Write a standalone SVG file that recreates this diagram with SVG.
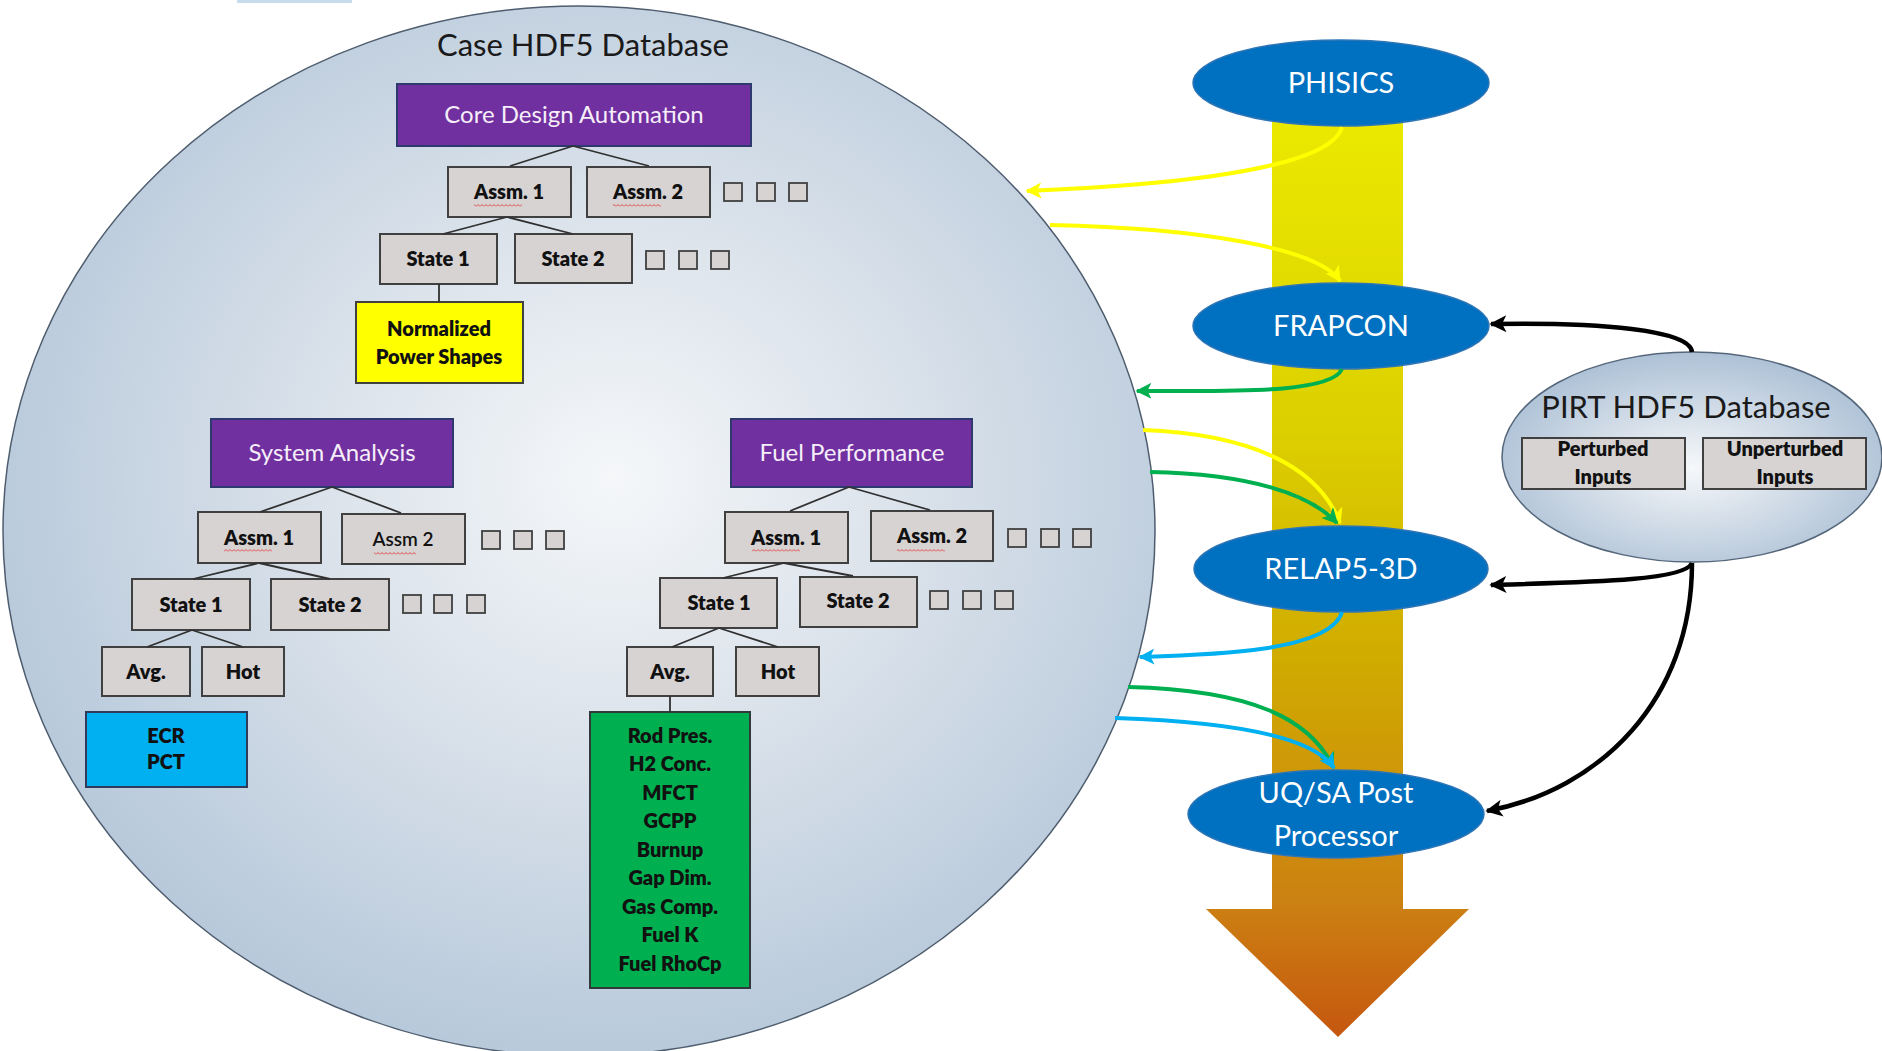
<svg xmlns="http://www.w3.org/2000/svg" width="1882" height="1051" viewBox="0 0 1882 1051">
<defs>
  <radialGradient id="caseFill" cx="0.53" cy="0.45" r="0.6">
    <stop offset="0" stop-color="#F5F7F9"/>
    <stop offset="0.45" stop-color="#D9E1EA"/>
    <stop offset="1" stop-color="#B2C5D8"/>
  </radialGradient>
  <radialGradient id="pirtFill" cx="0.5" cy="0.55" r="0.6">
    <stop offset="0" stop-color="#F6F8FA"/>
    <stop offset="0.5" stop-color="#CFDAE6"/>
    <stop offset="1" stop-color="#A6BCD3"/>
  </radialGradient>
  <linearGradient id="barFill" gradientUnits="userSpaceOnUse" x1="0" y1="100" x2="0" y2="1040">
    <stop offset="0" stop-color="#ECEA00"/>
    <stop offset="0.35" stop-color="#DCD000"/>
    <stop offset="0.6" stop-color="#D0AA00"/>
    <stop offset="0.85" stop-color="#CC8212"/>
    <stop offset="1" stop-color="#C5560F"/>
  </linearGradient>
  <pattern id="squig" width="4" height="3" patternUnits="userSpaceOnUse">
    <path d="M0,2.5 L2,0.5 L4,2.5" stroke="#E23A3A" stroke-width="0.9" fill="none"/>
  </pattern>
  <marker id="ahY" viewBox="0 0 10 10" refX="9" refY="5" markerWidth="4" markerHeight="4" orient="auto"><path d="M0,0 L10,5 L0,10 L2.5,5 Z" fill="#FFFF00"/></marker>
  <marker id="ahG" viewBox="0 0 10 10" refX="9" refY="5" markerWidth="4" markerHeight="4" orient="auto"><path d="M0,0 L10,5 L0,10 L2.5,5 Z" fill="#00B050"/></marker>
  <marker id="ahB" viewBox="0 0 10 10" refX="9" refY="5" markerWidth="4" markerHeight="4" orient="auto"><path d="M0,0 L10,5 L0,10 L2.5,5 Z" fill="#00B0F0"/></marker>
  <marker id="ahK" viewBox="0 0 10 10" refX="9" refY="5" markerWidth="3.8" markerHeight="3.8" orient="auto"><path d="M0,0 L10,5 L0,10 L2.5,5 Z" fill="#000000"/></marker>
</defs>
<style>
  text { font-family: Lato, "Liberation Sans", sans-serif; }
  .title { font-size: 31px; fill: #1A1A1A; }
  .purple { fill: #7030A0; stroke: #2E3A6E; stroke-width: 2; }
  .ptext { font-size: 24px; fill: #F6EEF9; text-anchor: middle; }
  .gbox { fill: #D7D3D3; stroke: #404040; stroke-width: 2; }
  .sq { fill: #D7D3D3; stroke: #404040; stroke-width: 1.8; }
  .btext { font-size: 20px; font-weight: 800; fill: #111; text-anchor: middle; }
  .rtext { font-size: 19px; font-weight: 600; fill: #111; text-anchor: middle; }
  .blue { fill: #0070C0; stroke: #2E75B6; stroke-width: 1.5; }
  .wtext { font-size: 29px; fill: #FFFFFF; text-anchor: middle; }
  .tree { stroke: #303030; stroke-width: 1.8; fill: none; }
  .arr { fill: none; stroke-width: 4; }
  .blk { fill: none; stroke: #000; stroke-width: 4.5; }
</style>

<rect x="0" y="0" width="1882" height="1051" fill="#FFFFFF"/>
<rect x="237" y="0" width="115" height="3" fill="#C9DCEC"/>

<g id="case-db">
  <ellipse cx="579" cy="531" rx="576" ry="525" fill="url(#caseFill)" stroke="#4E5D6E" stroke-width="1.5"/>
  <text class="title" x="583" y="56" text-anchor="middle">Case HDF5 Database</text>
</g>

<!-- Core Design Automation tree -->
<g id="core-design">
  <rect class="purple" x="397" y="84" width="354" height="62"/>
  <text class="ptext" x="574" y="123">Core Design Automation</text>
</g>
<g id="cda-assm1"><rect class="gbox" x="448" y="167" width="123" height="50"/><text class="btext" x="509" y="199">Assm. 1</text><rect x="474" y="204" width="48" height="3" fill="url(#squig)"/></g>
<g id="cda-assm2"><rect class="gbox" x="587" y="167" width="123" height="50"/><text class="btext" x="648" y="199">Assm. 2</text><rect x="613" y="204" width="48" height="3" fill="url(#squig)"/></g>
<g id="cda-assm-more"><rect class="sq" x="724" y="183" width="18" height="18"/><rect class="sq" x="757" y="183" width="18" height="18"/><rect class="sq" x="789" y="183" width="18" height="18"/></g>
<g id="cda-state1"><rect class="gbox" x="380" y="234" width="117" height="50"/><text class="btext" x="438" y="266">State 1</text></g>
<g id="cda-state2"><rect class="gbox" x="515" y="234" width="117" height="49"/><text class="btext" x="573" y="266">State 2</text></g>
<g id="cda-state-more"><rect class="sq" x="646" y="251" width="18" height="18"/><rect class="sq" x="679" y="251" width="18" height="18"/><rect class="sq" x="711" y="251" width="18" height="18"/></g>
<g id="power-shapes"><rect x="356" y="302" width="167" height="81" fill="#FFFF00" stroke="#404040" stroke-width="2"/><text class="btext" x="439" y="336" font-size="21">Normalized</text><text class="btext" x="439" y="364" font-size="21">Power Shapes</text></g>

<!-- System Analysis tree -->
<g id="system-analysis">
  <rect class="purple" x="211" y="419" width="242" height="68"/>
  <text class="ptext" x="332" y="461">System Analysis</text>
</g>
<g id="sa-assm1"><rect class="gbox" x="198" y="512" width="123" height="51"/><text class="btext" x="259" y="545">Assm. 1</text><rect x="224" y="549" width="48" height="3" fill="url(#squig)"/></g>
<g id="sa-assm2"><rect class="gbox" x="342" y="514" width="123" height="50"/><text class="rtext" x="403" y="546">Assm 2</text><rect x="374" y="552" width="42" height="3" fill="url(#squig)"/></g>
<g id="sa-assm-more"><rect class="sq" x="482" y="531" width="18" height="18"/><rect class="sq" x="514" y="531" width="18" height="18"/><rect class="sq" x="546" y="531" width="18" height="18"/></g>
<g id="sa-state1"><rect class="gbox" x="132" y="579" width="118" height="51"/><text class="btext" x="191" y="612">State 1</text></g>
<g id="sa-state2"><rect class="gbox" x="271" y="579" width="118" height="51"/><text class="btext" x="330" y="612">State 2</text></g>
<g id="sa-state-more"><rect class="sq" x="403" y="595" width="18" height="18"/><rect class="sq" x="434" y="595" width="18" height="18"/><rect class="sq" x="467" y="595" width="18" height="18"/></g>
<g id="sa-avg"><rect class="gbox" x="102" y="647" width="88" height="49"/><text class="btext" x="146" y="679">Avg.</text></g>
<g id="sa-hot"><rect class="gbox" x="202" y="647" width="82" height="49"/><text class="btext" x="243" y="679">Hot</text></g>
<g id="ecr-pct"><rect x="86" y="712" width="161" height="75" fill="#00B0F0" stroke="#303a5a" stroke-width="2"/><text class="btext" x="166" y="743" font-size="19">ECR</text><text class="btext" x="166" y="769" font-size="19">PCT</text></g>

<!-- Fuel Performance tree -->
<g id="fuel-performance">
  <rect class="purple" x="731" y="419" width="241" height="68"/>
  <text class="ptext" x="852" y="461">Fuel Performance</text>
</g>
<g id="fp-assm1"><rect class="gbox" x="725" y="512" width="123" height="51"/><text class="btext" x="786" y="545">Assm. 1</text><rect x="752" y="549" width="48" height="3" fill="url(#squig)"/></g>
<g id="fp-assm2"><rect class="gbox" x="871" y="511" width="122" height="50"/><text class="btext" x="932" y="543">Assm. 2</text><rect x="897" y="549" width="48" height="3" fill="url(#squig)"/></g>
<g id="fp-assm-more"><rect class="sq" x="1008" y="529" width="18" height="18"/><rect class="sq" x="1041" y="529" width="18" height="18"/><rect class="sq" x="1073" y="529" width="18" height="18"/></g>
<g id="fp-state1"><rect class="gbox" x="660" y="578" width="117" height="50"/><text class="btext" x="719" y="610">State 1</text></g>
<g id="fp-state2"><rect class="gbox" x="800" y="577" width="117" height="50"/><text class="btext" x="858" y="608">State 2</text></g>
<g id="fp-state-more"><rect class="sq" x="930" y="591" width="18" height="18"/><rect class="sq" x="963" y="591" width="18" height="18"/><rect class="sq" x="995" y="591" width="18" height="18"/></g>
<g id="fp-avg"><rect class="gbox" x="627" y="647" width="86" height="49"/><text class="btext" x="670" y="679">Avg.</text></g>
<g id="fp-hot"><rect class="gbox" x="736" y="647" width="83" height="49"/><text class="btext" x="778" y="679">Hot</text></g>
<g id="fp-outputs">
  <rect x="590" y="712" width="160" height="276" fill="#00B050" stroke="#303a3a" stroke-width="2"/>
  <text class="btext" x="670" y="743">Rod Pres.</text>
  <text class="btext" x="670" y="771">H2 Conc.</text>
  <text class="btext" x="670" y="800">MFCT</text>
  <text class="btext" x="670" y="828">GCPP</text>
  <text class="btext" x="670" y="857">Burnup</text>
  <text class="btext" x="670" y="885">Gap Dim.</text>
  <text class="btext" x="670" y="914">Gas Comp.</text>
  <text class="btext" x="670" y="942">Fuel K</text>
  <text class="btext" x="670" y="971">Fuel RhoCp</text>
</g>

<!-- Workflow arrow -->
<g id="workflow-bar">
  <path d="M1272,100 L1403,100 L1403,909 L1469,909 L1338,1037 L1206,909 L1272,909 Z" fill="url(#barFill)"/>
</g>

<g id="phisics"><ellipse class="blue" cx="1341" cy="83" rx="148" ry="43"/><text class="wtext" x="1341" y="93">PHISICS</text></g>
<g id="frapcon"><ellipse class="blue" cx="1341" cy="326" rx="148" ry="43"/><text class="wtext" x="1341" y="336">FRAPCON</text></g>
<g id="relap"><ellipse class="blue" cx="1341" cy="569" rx="147" ry="43"/><text class="wtext" x="1341" y="579">RELAP5-3D</text></g>
<g id="uqsa"><ellipse class="blue" cx="1336" cy="814" rx="148" ry="44"/><text class="wtext" x="1336" y="803">UQ/SA Post</text><text class="wtext" x="1336" y="846">Processor</text></g>

<g id="pirt-db">
  <ellipse cx="1692" cy="457" rx="190" ry="105" fill="url(#pirtFill)" stroke="#55667A" stroke-width="1.5"/>
  <text x="1686" y="418" font-size="31" fill="#1A1A1A" text-anchor="middle">PIRT HDF5 Database</text>
</g>
<g id="perturbed"><rect class="gbox" x="1522" y="438" width="163" height="51"/><text class="btext" x="1603" y="456">Perturbed</text><text class="btext" x="1603" y="484">Inputs</text></g>
<g id="unperturbed"><rect class="gbox" x="1703" y="438" width="163" height="51"/><text class="btext" x="1785" y="456">Unperturbed</text><text class="btext" x="1785" y="484">Inputs</text></g>

<g id="connectors">
  <!-- tree lines -->
  <path class="tree" d="M573,146 L510,166 M573,146 L649,166 M507,217 L443,234 M507,217 L573,234 M439,284 L439,302"/>
  <path class="tree" d="M332,487 L260,512 M332,487 L401,513 M259,563 L193,579 M259,563 L330,579 M192,630 L147,647 M192,630 L243,647"/>
  <path class="tree" d="M849,487 L790,511 M849,487 L930,510 M784,563 L723,578 M784,563 L853,576 M719,628 L672,647 M719,628 L778,647 M670,696 L670,712"/>
  <!-- workflow arrows -->
  <path class="arr" stroke="#FFFF00" marker-end="url(#ahY)" d="M1342,127 C1330,172 1150,186 1027,191"/>
  <path class="arr" stroke="#FFFF00" marker-end="url(#ahY)" d="M1050,225 C1200,228 1318,248 1340,281"/>
  <path class="arr" stroke="#00B050" marker-end="url(#ahG)" d="M1342,369 C1330,396 1210,390 1137,391"/>
  <path class="arr" stroke="#FFFF00" marker-end="url(#ahY)" d="M1143,430 C1250,434 1318,466 1340,523"/>
  <path class="arr" stroke="#00B050" marker-end="url(#ahG)" d="M1150,472 C1250,474 1310,494 1337,523"/>
  <path class="arr" stroke="#00B0F0" marker-end="url(#ahB)" d="M1342,612 C1330,652 1210,655 1140,657"/>
  <path class="arr" stroke="#00B050" marker-end="url(#ahG)" d="M1128,687 C1250,690 1310,718 1333,767"/>
  <path class="arr" stroke="#00B0F0" marker-end="url(#ahB)" d="M1115,718 C1240,722 1314,738 1334,768"/>
  <path class="blk" marker-end="url(#ahK)" d="M1692,352 C1690,330 1600,322 1491,324"/>
  <path class="blk" marker-end="url(#ahK)" d="M1692,563 C1685,580 1600,582 1491,585"/>
  <path class="blk" marker-end="url(#ahK)" d="M1692,563 C1692,700 1600,790 1487,811"/>
</g>
</svg>
